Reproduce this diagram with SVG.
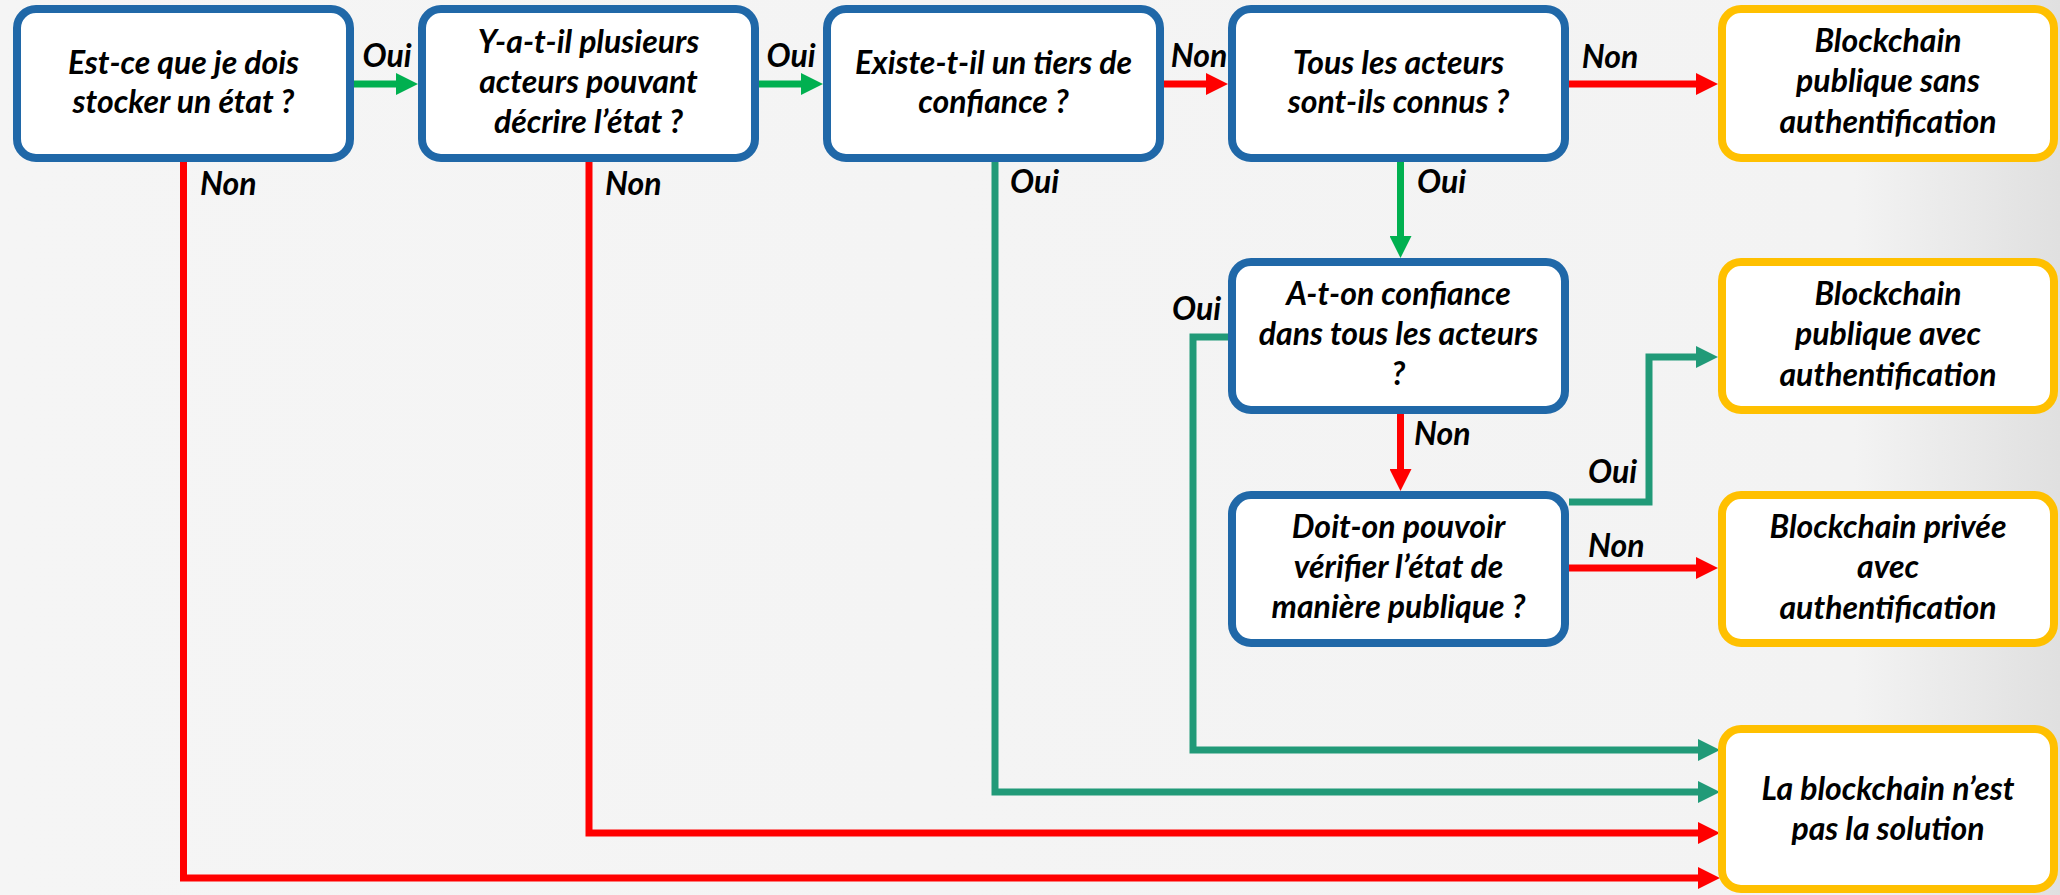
<svg xmlns="http://www.w3.org/2000/svg" width="2060" height="895" viewBox="0 0 2060 895">
  <defs>
    <linearGradient id="bg" x1="0" y1="0" x2="1" y2="0">
      <stop offset="0" stop-color="#f5f5f5"/>
      <stop offset="0.9" stop-color="#f3f3f3"/>
      <stop offset="1" stop-color="#e0e0e0"/>
    </linearGradient>
    <marker id="ah-green" markerUnits="userSpaceOnUse" markerWidth="22" markerHeight="22" refX="0" refY="11" orient="auto">
      <path d="M0,0 L22,11 L0,22 Z" fill="#00b050"/>
    </marker>
    <marker id="ah-red" markerUnits="userSpaceOnUse" markerWidth="22" markerHeight="22" refX="0" refY="11" orient="auto">
      <path d="M0,0 L22,11 L0,22 Z" fill="#ff0000"/>
    </marker>
    <marker id="ah-teal" markerUnits="userSpaceOnUse" markerWidth="22" markerHeight="22" refX="0" refY="11" orient="auto">
      <path d="M0,0 L22,11 L0,22 Z" fill="#219a78"/>
    </marker>
  </defs>
  <style>
    .q rect { fill: #ffffff; stroke: #2068a8; stroke-width: 8; }
    .r rect { fill: #ffffff; stroke: #ffc000; stroke-width: 8; }
    text { font-family: Lato, "Open Sans", sans-serif; font-weight: bold; font-style: italic; font-size: 32px; fill: #000000; }
    .c { text-anchor: middle; }
    .edge { fill: none; stroke-width: 7; }
    .g { stroke: #00b050; marker-end: url(#ah-green); }
    .rd { stroke: #ff0000; marker-end: url(#ah-red); }
    .t { stroke: #219a78; marker-end: url(#ah-teal); }
  </style>

  <rect x="0" y="0" width="2060" height="895" fill="url(#bg)"/>

  <!-- connectors -->
  <g id="connectors">
    <path class="edge g" d="M354,84 H396"/>
    <path class="edge g" d="M759,84 H801"/>
    <path class="edge rd" d="M1164,84 H1206"/>
    <path class="edge rd" d="M1569,84 H1696"/>
    <path class="edge g" d="M1400.5,162 V236"/>
    <path class="edge rd" d="M1400.5,414 V469"/>
    <path class="edge rd" d="M1569,568 H1696"/>
    <path class="edge t" d="M1569,502 H1649 V357 H1696"/>
    <path class="edge t" d="M1228,337 H1193 V750 H1698"/>
    <path class="edge t" d="M995,162 V792 H1698"/>
    <path class="edge rd" d="M589,162 V833 H1698"/>
    <path class="edge rd" d="M183.5,162 V878 H1698"/>

    <text x="387" y="67" class="c">Oui</text>
    <text x="791" y="67" class="c">Oui</text>
    <text x="1199" y="67" class="c">Non</text>
    <text x="1610" y="68" class="c">Non</text>
    <text x="200" y="195">Non</text>
    <text x="605" y="195">Non</text>
    <text x="1010" y="193">Oui</text>
    <text x="1417" y="193">Oui</text>
    <text x="1172" y="320">Oui</text>
    <text x="1414" y="445">Non</text>
    <text x="1588" y="483">Oui</text>
    <text x="1588" y="557">Non</text>
  </g>

  <!-- question nodes -->
  <g id="q-stocker" class="q">
    <rect x="17" y="9" width="333" height="149" rx="19"/>
    <text x="183.5" y="74" class="c">Est-ce que je dois</text>
    <text x="183.5" y="113" class="c">stocker un état ?</text>
  </g>
  <g id="q-acteurs" class="q">
    <rect x="422" y="9" width="333" height="149" rx="19"/>
    <text x="588.5" y="53" class="c">Y-a-t-il plusieurs</text>
    <text x="588.5" y="93" class="c">acteurs pouvant</text>
    <text x="588.5" y="133" class="c">décrire l’état ?</text>
  </g>
  <g id="q-tiers" class="q">
    <rect x="827" y="9" width="333" height="149" rx="19"/>
    <text x="993.5" y="74" class="c">Existe-t-il un tiers de</text>
    <text x="993.5" y="113" class="c">confiance ?</text>
  </g>
  <g id="q-connus" class="q">
    <rect x="1232" y="9" width="333" height="149" rx="19"/>
    <text x="1398.5" y="74" class="c">Tous les acteurs</text>
    <text x="1398.5" y="113" class="c">sont-ils connus ?</text>
  </g>
  <g id="q-confiance" class="q">
    <rect x="1232" y="262" width="333" height="148" rx="19"/>
    <text x="1398.5" y="305" class="c">A-t-on confiance</text>
    <text x="1398.5" y="345" class="c">dans tous les acteurs</text>
    <text x="1398.5" y="385" class="c">?</text>
  </g>
  <g id="q-verifier" class="q">
    <rect x="1232" y="495" width="333" height="148" rx="19"/>
    <text x="1398.5" y="538" class="c">Doit-on pouvoir</text>
    <text x="1398.5" y="578" class="c">vérifier l’état de</text>
    <text x="1398.5" y="618" class="c">manière publique ?</text>
  </g>

  <!-- result nodes -->
  <g id="r-publique-sans" class="r">
    <rect x="1722" y="9" width="332" height="149" rx="19"/>
    <text x="1888" y="52" class="c">Blockchain</text>
    <text x="1888" y="92" class="c">publique sans</text>
    <text x="1888" y="133" class="c">authentification</text>
  </g>
  <g id="r-publique-avec" class="r">
    <rect x="1722" y="262" width="332" height="148" rx="19"/>
    <text x="1888" y="305" class="c">Blockchain</text>
    <text x="1888" y="345" class="c">publique avec</text>
    <text x="1888" y="386" class="c">authentification</text>
  </g>
  <g id="r-privee" class="r">
    <rect x="1722" y="495" width="332" height="148" rx="19"/>
    <text x="1888" y="538" class="c">Blockchain privée</text>
    <text x="1888" y="578" class="c">avec</text>
    <text x="1888" y="619" class="c">authentification</text>
  </g>
  <g id="r-pas-solution" class="r">
    <rect x="1722" y="729" width="332" height="160" rx="19"/>
    <text x="1888" y="800" class="c">La blockchain n’est</text>
    <text x="1888" y="840" class="c">pas la solution</text>
  </g>
</svg>
